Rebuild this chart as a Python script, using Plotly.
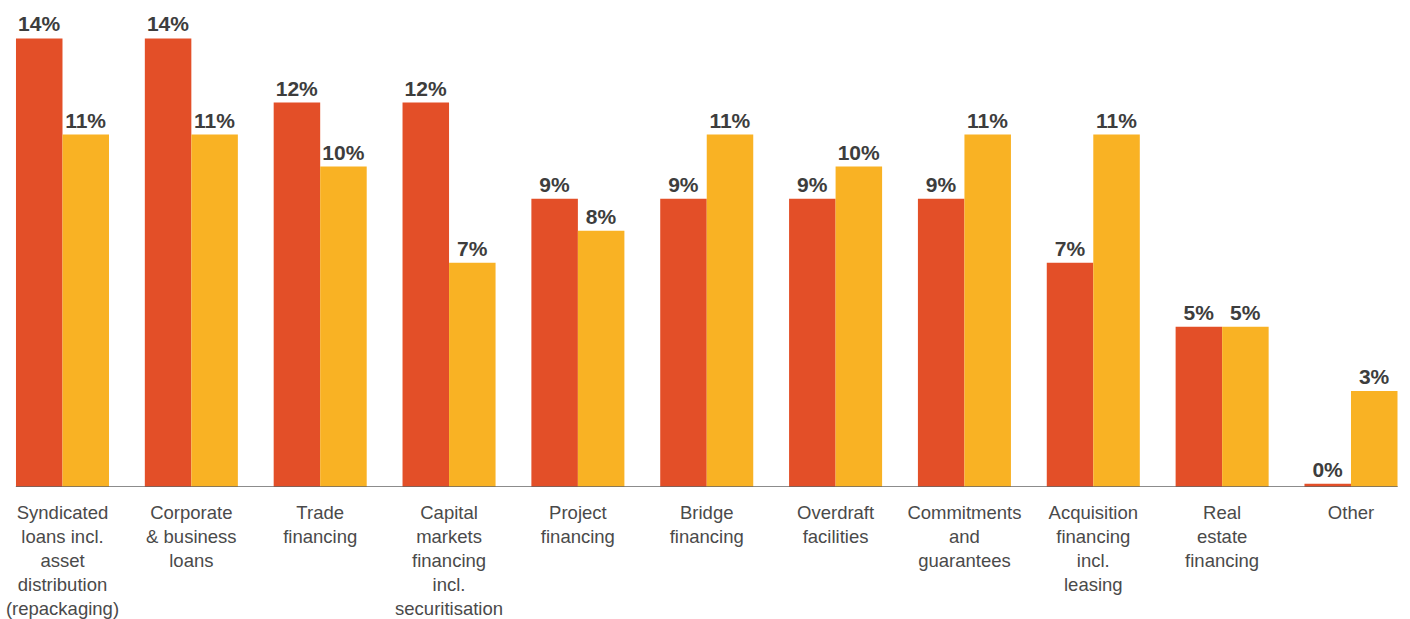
import plotly.graph_objects as go

categories = [
    "Syndicated<br>loans incl.<br>asset<br>distribution<br>(repackaging)",
    "Corporate<br>& business<br>loans",
    "Trade<br>financing",
    "Capital<br>markets<br>financing<br>incl.<br>securitisation",
    "Project<br>financing",
    "Bridge<br>financing",
    "Overdraft<br>facilities",
    "Commitments<br>and<br>guarantees",
    "Acquisition<br>financing<br>incl.<br>leasing",
    "Real<br>estate<br>financing",
    "Other",
]
current_share = [14, 14, 12, 12, 9, 9, 9, 9, 7, 5, 0.1]
expected_share = [11, 11, 10, 7, 8, 11, 10, 11, 11, 5, 3]

RED = "#E34F28"
YELLOW = "#F9B224"
LABEL_FONT = dict(family="Liberation Sans, Arial, sans-serif", size=21, color="#3d3d3d")

fig = go.Figure()
for name, vals, color in [("Current", current_share, RED), ("Expected", expected_share, YELLOW)]:
    fig.add_trace(go.Bar(
        name=name,
        x=categories,
        y=vals,
        marker=dict(color=color, line=dict(width=0)),
        texttemplate="<b>%{y:.0f}%</b>",
        textposition="outside",
        textfont=LABEL_FONT,
        cliponaxis=False,
        hoverinfo="skip",
    ))

# baseline under the bar groups
fig.add_shape(type="line", xref="x", yref="y", x0=-0.362, x1=10.362, y0=0, y1=0,
              line=dict(color="#666666", width=1.5), layer="above")

fig.update_layout(
    width=1410, height=619,
    margin=dict(l=0, r=0, t=0, b=132),
    paper_bgcolor="white", plot_bgcolor="white",
    barmode="group", bargap=0.278, bargroupgap=0,
    showlegend=False,
    xaxis=dict(
        range=[-0.485, 10.458],
        automargin=False,
        showgrid=False, zeroline=False, showline=False, ticks="",
        tickfont=dict(family="Liberation Sans, Arial, sans-serif", size=18.5, color="#4a4a4a"),
        ticklabelstandoff=12,
    ),
    yaxis=dict(range=[0, 15.2], visible=False, automargin=False),
)

fig.write_html("out.html")
